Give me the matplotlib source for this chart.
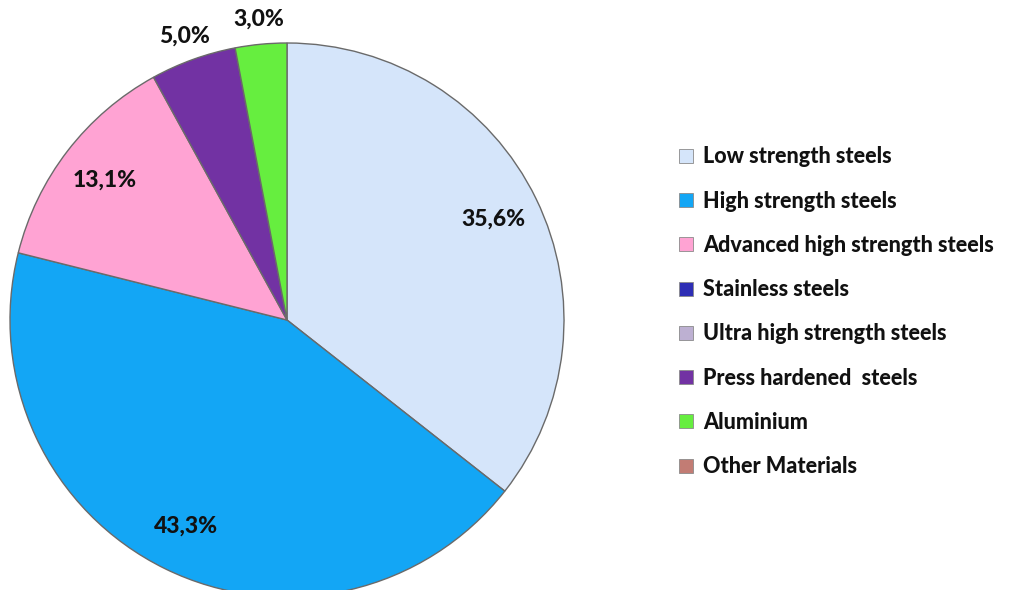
import matplotlib
matplotlib.use("Agg")
import matplotlib.pyplot as plt
from matplotlib.patches import Patch
import numpy as np

plt.rcParams['font.family'] = ['Lato', 'DejaVu Sans']

categories = [
    "Low strength steels",
    "High strength steels",
    "Advanced high strength steels",
    "Stainless steels",
    "Ultra high strength steels",
    "Press hardened  steels",
    "Aluminium",
    "Other Materials",
]
shares = [35.6, 43.3, 13.1, 0.0, 0.0, 5.0, 3.0, 0.0]
colors = ["#D5E5FA", "#13A6F5", "#FFA3D3", "#2E2EB5",
          "#BDB0D2", "#7232A3", "#66EE3F", "#C27C74"]
labels = ["35,6%", "43,3%", "13,1%", "", "", "5,0%", "3,0%", ""]

W, H = 1009, 590
fig = plt.figure(figsize=(W / 100, H / 100), dpi=100)

# pie axes: centre and radius in pixels
cx, cy, R = 287, 270, 277
ax = fig.add_axes([(cx - R) / W, (cy - R) / H, 2 * R / W, 2 * R / H])
ax.set_axis_off()

vals = [v for v in shares if v > 0]
cols = [c for v, c in zip(shares, colors) if v > 0]
labs = [l for v, l in zip(shares, labels) if v > 0]

wedges, _ = ax.pie(vals, colors=cols, startangle=90, counterclock=False,
                   radius=1.0,
                   wedgeprops=dict(edgecolor="#6a6a6a", linewidth=1.0))

for w, lab, v in zip(wedges, labs, vals):
    mid = np.deg2rad((w.theta1 + w.theta2) / 2)
    r = 0.83 if v > 10 else 1.09
    ax.text(r * np.cos(mid), r * np.sin(mid), lab, ha="center", va="center",
            fontsize=16.5, fontweight="black", color="#111111")

ax.set_xlim(-1, 1)
ax.set_ylim(-1, 1)
ax.set_aspect("equal")

handles = [Patch(facecolor=c, edgecolor="#8a8a8a", linewidth=0.6) for c in colors]
fig.legend(handles, categories, loc="upper left",
           bbox_to_anchor=(660 / W, 1 - 127 / H), frameon=False,
           handlelength=0.62, handleheight=0.62, handletextpad=0.5,
           labelspacing=1.08, prop=dict(size=15.5, weight="black"),
           labelcolor="#111111")

fig.savefig("out.png", dpi=100)
